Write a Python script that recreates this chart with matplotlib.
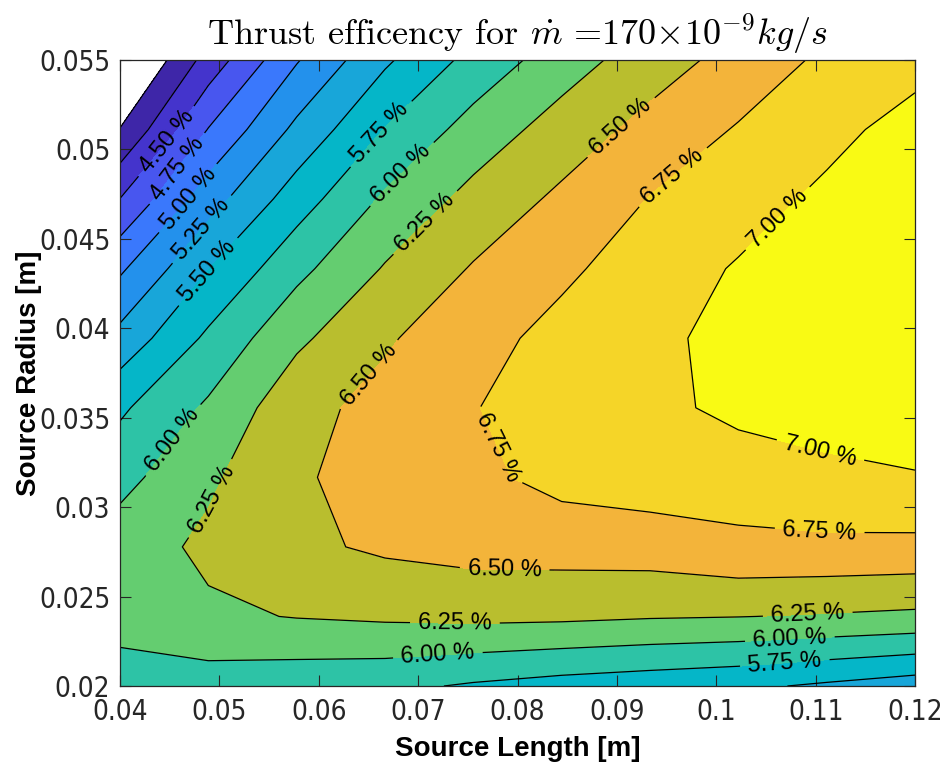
import numpy as np
import matplotlib
matplotlib.use("Agg")
import matplotlib.pyplot as plt
from matplotlib import font_manager
from matplotlib.font_manager import FontProperties

# Grid of simulated source geometries
source_length = np.linspace(0.04, 0.12, 10)   # [m]
source_radius = np.linspace(0.02, 0.055, 10)  # [m]

# Thrust efficiency [%], one row per source radius (bottom to top)
efficiency = [
    [5.85, 5.88, 5.84, 5.81, 5.72, 5.65, 5.60, 5.55, 5.46, 5.37],
    [6.12, 6.21, 6.26, 6.29, 6.31, 6.30, 6.27, 6.255, 6.23, 6.20],
    [6.13, 6.30, 6.45, 6.54, 6.59, 6.60, 6.62, 6.70, 6.70, 6.69],
    [5.92, 6.21, 6.46, 6.63, 6.69, 6.83, 6.88, 6.86, 6.94, 6.985],
    [5.71, 6.04, 6.42, 6.58, 6.74, 6.87, 6.93, 7.065, 7.11, 7.13],
    [5.33, 5.80, 6.20, 6.47, 6.66, 6.83, 6.94, 7.08, 7.12, 7.15],
    [4.96, 5.495, 5.93, 6.27, 6.52, 6.70, 6.88, 7.02, 7.10, 7.15],
    [4.505, 5.14, 5.63, 6.04, 6.33, 6.55, 6.76, 6.90, 7.05, 7.13],
    [4.01, 4.76, 5.31, 5.76, 6.10, 6.36, 6.58, 6.77, 6.93, 7.09],
    [3.60, 4.35, 4.98, 5.46, 5.83, 6.13, 6.38, 6.59, 6.80, 6.92],
]

levels = [4.00, 4.25, 4.50, 4.75, 5.00, 5.25, 5.50, 5.75, 6.00, 6.25, 6.50, 6.75, 7.00]
label_levels = [4.50, 4.75, 5.00, 5.25, 5.50, 5.75, 6.00, 6.25, 6.50, 6.75, 7.00]
plain_levels = [4.00, 4.25]

x_ticks = [0.04, 0.05, 0.06, 0.07, 0.08, 0.09, 0.10, 0.11, 0.12]
x_tick_labels = ["0.04", "0.05", "0.06", "0.07", "0.08", "0.09", "0.1", "0.11", "0.12"]
y_ticks = [0.02, 0.025, 0.03, 0.035, 0.04, 0.045, 0.05, 0.055]
y_tick_labels = ["0.02", "0.025", "0.03", "0.035", "0.04", "0.045", "0.05", "0.055"]

# parula-like fill colours, one per band (lowest band first, last = above 7.00)
band_colors = [
    "#3e26a8", "#4434cc", "#4856ef", "#3a78fc", "#2391ec", "#18a6d9",
    "#05b6c8", "#2dc3a6", "#64cd70", "#b9be2e", "#f3b43a", "#f5d528",
    "#f9fa14",
]

# where the in-line level labels sit (data coordinates)
label_spots = [
    (0.0448, 0.0504), (0.0463, 0.0487), (0.0470, 0.0472), (0.0481, 0.0456),
    (0.0477, 0.0437), (0.0662, 0.0509), (0.0684, 0.0486), (0.0702, 0.0462),
    (0.0900, 0.0515), (0.0948, 0.0490), (0.1059, 0.0463), (0.0655, 0.0372),
    (0.0779, 0.0333), (0.0450, 0.0339), (0.0486, 0.0306), (0.1104, 0.0330),
    (0.1104, 0.0286), (0.0787, 0.0263), (0.0737, 0.0235), (0.1092, 0.0241),
    (0.0720, 0.0216), (0.1074, 0.0227), (0.1069, 0.0213),
]

# narrow face for the tick numbers if one is installed
narrow_file = None
for f in font_manager.fontManager.ttflist:
    regular = f.weight in (400, "normal", "regular") and f.style == "normal"
    if regular and ("Narrow" in f.name or "Condensed" in f.name
                    or f.stretch in ("condensed", "semi-condensed")):
        narrow_file = f.fname
        break
if narrow_file:
    tick_font = FontProperties(fname=narrow_file, size=20)
else:
    tick_font = FontProperties(family="Liberation Sans", size=17)

plt.rcParams["font.family"] = "Liberation Sans"
plt.rcParams["mathtext.fontset"] = "cm"

fig = plt.figure(figsize=(9.44, 7.69), dpi=100)
ax = fig.add_axes([120 / 944, 83 / 769, 795 / 944, 626 / 769])

X, Y = np.meshgrid(source_length, source_radius)
Z = np.array(efficiency)

fill_levels = levels + [float(Z.max()) + 1.0]
ax.contourf(X, Y, Z, levels=fill_levels, colors=band_colors)
ax.contour(X, Y, Z, levels=plain_levels, colors="black", linewidths=0.9)
cs = ax.contour(X, Y, Z, levels=label_levels, colors="black", linewidths=0.9)
ax.clabel(cs, manual=label_spots, fmt="%.2f %%",
          fontsize=17, inline=True, inline_spacing=8)

ax.set_xlim(0.04, 0.12)
ax.set_ylim(0.02, 0.055)
ax.set_xticks(x_ticks)
ax.set_xticklabels(x_tick_labels, fontproperties=tick_font)
ax.set_yticks(y_ticks)
ax.set_yticklabels(y_tick_labels, fontproperties=tick_font)
ax.tick_params(direction="in", length=8, width=0.8, top=True, right=True,
               colors="#262626")
ax.tick_params(axis="x", pad=9)
ax.tick_params(axis="y", pad=7)
for s in ax.spines.values():
    s.set_color("#262626")
    s.set_linewidth(0.9)

ax.set_xlabel("Source Length [m]", fontsize=20, fontweight="bold", va="top")
ax.xaxis.set_label_coords(0.5, -0.08)
ax.set_ylabel("Source Radius [m]", fontsize=20, fontweight="bold")
ax.yaxis.set_label_coords(-0.098, 0.5)
ax.set_title(r"Thrust efficency for $\dot{m}$ =170$\times$10$^{-9}$$kg/s$",
             family="cmr10", fontsize=26, pad=11)

fig.savefig("out.png", dpi=100, facecolor="white")
